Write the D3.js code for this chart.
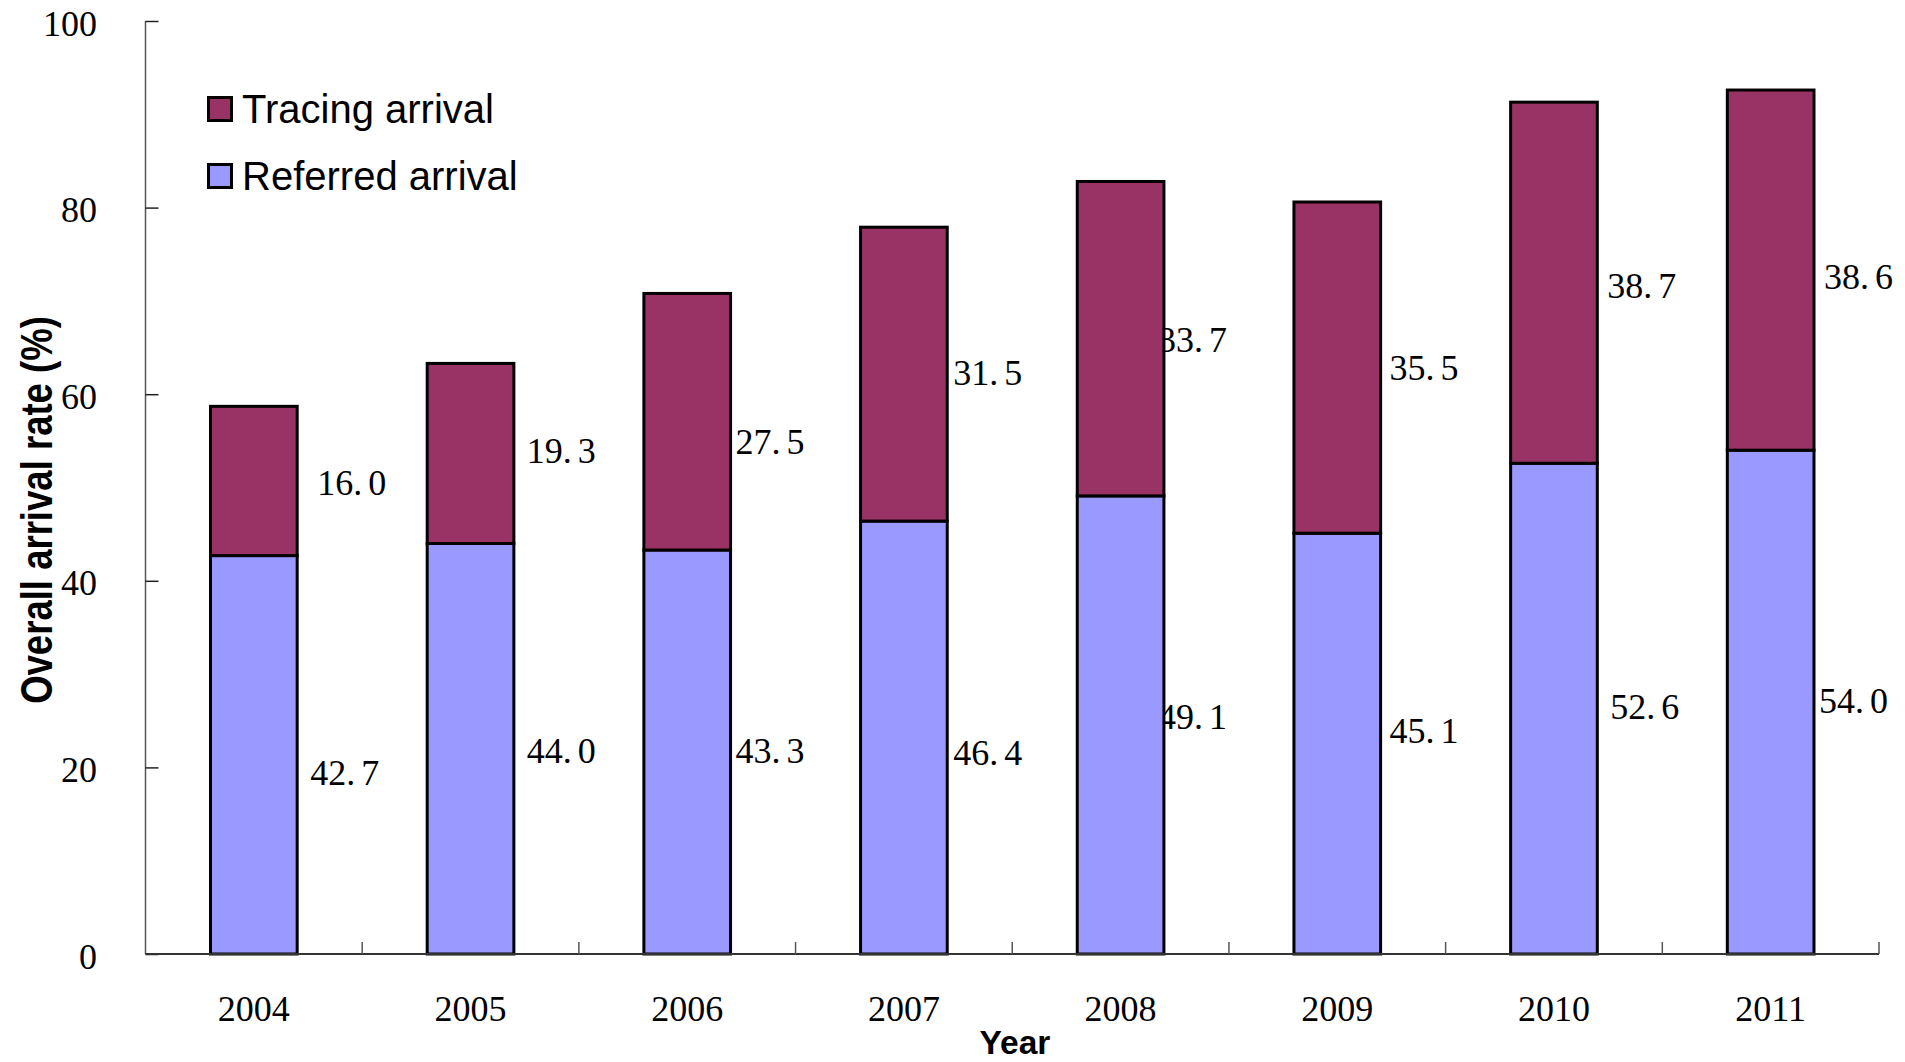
<!DOCTYPE html>
<html>
<head>
<meta charset="utf-8">
<script src="https://cdn.jsdelivr.net/npm/d3@7"></script>
<style>
  html, body { margin: 0; padding: 0; background: #fff; }
  svg { display: block; }
</style>
</head>
<body>
<svg id="chart" width="1905" height="1062"></svg>
<script>
// Arrival rates by year (%): referred arrivals stacked under tracing arrivals
const years = ["2004", "2005", "2006", "2007", "2008", "2009", "2010", "2011"];
const referred = [42.7, 44.0, 43.3, 46.4, 49.1, 45.1, 52.6, 54.0];
const tracing  = [16.0, 19.3, 27.5, 31.5, 33.7, 35.5, 38.7, 38.6];
const yTicks = [0, 20, 40, 60, 80, 100];
const seriesNames = ["Tracing arrival", "Referred arrival"];

// Hand-placed label nudges in pixels [dx from bar edge, dy from segment middle]
const nudgeTracing  = [[20, 2], [13, -3], [5, 20], [6, -2], [-6, 1], [9, 0], [10, 3], [10, 6.5]];
const nudgeReferred = [[13, 18], [13, 2], [5, -2], [6, 14.5], [-6, -8.5], [9, -13.5], [13, -2.5], [5, -1.5]];

const colTracing = "#993366";
const colReferred = "#9999FF";
const serif = "'Liberation Serif', 'Times New Roman', serif";
const sans = "'Liberation Sans', Arial, sans-serif";

const svg = d3.select("#chart");

const x = d3.scaleBand()
  .domain(years)
  .range([145.5, 1879])
  .paddingInner(0.6)
  .paddingOuter(0.3);

const y = d3.scaleLinear().domain([0, 100]).range([954, 21]);

const rows = years.map((yr, i) => ({ year: yr, referred: referred[i], tracing: tracing[i] }));
const stack = d3.stack().keys(["referred", "tracing"])(rows);

// value labels, drawn first so the bars sit on top of them
const fmt = d3.format(".1f");
function drawLabels(layer, values, nudges) {
  const g = svg.append("g");
  layer.forEach((d, i) => {
    const parts = fmt(values[i]).split(".");
    const t = g.append("text")
      .attr("x", x(years[i]) + x.bandwidth() + nudges[i][0])
      .attr("y", y((d[0] + d[1]) / 2) + nudges[i][1] + 12.5)
      .attr("font-family", serif)
      .attr("font-size", 36)
      .attr("fill", "#000");
    t.append("tspan").text(parts[0] + ".");
    t.append("tspan").attr("dx", 6).text(parts[1]);
  });
}
drawLabels(stack[1], tracing, nudgeTracing);
drawLabels(stack[0], referred, nudgeReferred);

// stacked bars
const colors = [colReferred, colTracing];
stack.forEach((layer, li) => {
  svg.append("g")
    .selectAll("rect")
    .data(layer)
    .join("rect")
    .attr("x", d => x(d.data.year))
    .attr("y", d => y(d[1]))
    .attr("width", x.bandwidth())
    .attr("height", d => y(d[0]) - y(d[1]))
    .attr("fill", colors[li])
    .attr("stroke", "#000")
    .attr("stroke-width", 3);
});

// y axis
const yAxis = d3.axisRight(y).tickValues(yTicks).tickSize(13).tickFormat("");
const gy = svg.append("g").attr("transform", "translate(145.5,0)").call(yAxis);
gy.select(".domain").attr("stroke", "#555").attr("stroke-width", 1.5).attr("d", "M0,21V954");
gy.selectAll(".tick line").attr("stroke", "#222").attr("stroke-width", 1.5);

svg.append("g").selectAll("text")
  .data(yTicks)
  .join("text")
  .attr("x", 97)
  .attr("y", d => y(d) + 14.5)
  .attr("text-anchor", "end")
  .attr("font-family", serif)
  .attr("font-size", 36)
  .text(d => d);

// x axis: baseline with ticks at category boundaries
const boundaries = d3.range(years.length + 1).map(i => x.range()[0] + i * x.step());
const gx = svg.append("g");
gx.append("line")
  .attr("x1", x.range()[0]).attr("x2", x.range()[1])
  .attr("y1", y(0)).attr("y2", y(0))
  .attr("stroke", "#333").attr("stroke-width", 2);
gx.selectAll("line.tk")
  .data(boundaries.slice(1))
  .join("line")
  .attr("class", "tk")
  .attr("x1", d => d).attr("x2", d => d)
  .attr("y1", y(0)).attr("y2", y(0) - 12)
  .attr("stroke", "#555").attr("stroke-width", 1.5);

svg.append("g").selectAll("text")
  .data(years)
  .join("text")
  .attr("x", d => x(d) + x.bandwidth() / 2)
  .attr("y", 1021)
  .attr("text-anchor", "middle")
  .attr("font-family", serif)
  .attr("font-size", 36)
  .text(d => d);

// axis titles
svg.append("text")
  .attr("x", 1015)
  .attr("y", 1054)
  .attr("text-anchor", "middle")
  .attr("font-family", sans)
  .attr("font-weight", "bold")
  .attr("font-size", 33.5)
  .text("Year");

svg.append("text")
  .attr("transform", "translate(52,510) rotate(-90) scale(0.812,1)")
  .attr("text-anchor", "middle")
  .attr("font-family", sans)
  .attr("font-weight", "bold")
  .attr("font-size", 45)
  .text("Overall arrival rate (%)");

// legend
const legend = svg.append("g");
const legendColors = [colTracing, colReferred];
const legendTop = [96, 163];
seriesNames.forEach((name, i) => {
  legend.append("rect")
    .attr("x", 208.5).attr("y", legendTop[i] + 1.5)
    .attr("width", 23).attr("height", 23)
    .attr("fill", legendColors[i])
    .attr("stroke", "#000").attr("stroke-width", 3);
  legend.append("text")
    .attr("x", 242)
    .attr("y", legendTop[i] + 27)
    .attr("font-family", sans)
    .attr("font-size", 40)
    .text(name);
});
</script>
</body>
</html>
